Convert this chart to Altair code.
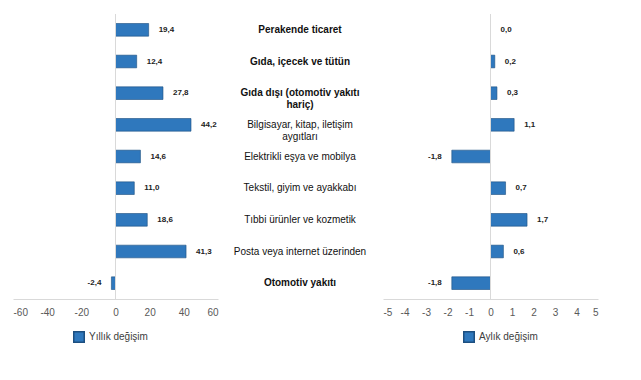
import altair as alt
import pandas as pd

categories = [
    "Perakende ticaret",
    "Gıda, içecek ve tütün",
    "Gıda dışı (otomotiv yakıtı\nhariç)",
    "Bilgisayar, kitap, iletişim\naygıtları",
    "Elektrikli eşya ve mobilya",
    "Tekstil, giyim ve ayakkabı",
    "Tıbbi ürünler ve kozmetik",
    "Posta veya internet üzerinden",
    "Otomotiv yakıtı",
]
bold_flags = [1, 1, 1, 0, 0, 0, 0, 0, 1]
yearly = [19.4, 12.4, 27.8, 44.2, 14.6, 11.0, 18.6, 41.3, -2.4]
monthly = [0.0, 0.2, 0.3, 1.1, -1.8, 0.7, 1.7, 0.6, -1.8]
yearly_ticks = [-60, -40, -20, 0, 20, 40, 60]
monthly_ticks = [-5, -4, -3, -2, -1, 0, 1, 2, 3, 4, 5]

BLUE = "#2f78bd"
FONT = "Liberation Sans"


def fmt(v):
    return f"{v:.1f}".replace(".", ",")


def make_df(vals, series):
    return pd.DataFrame({
        "cat": categories,
        "val": vals,
        "label": [fmt(v) for v in vals],
        "series": series,
    })


H = 285
ysc = alt.Y("cat:N", sort=categories, axis=None,
            scale=alt.Scale(paddingInner=0.6, paddingOuter=0.3))


def panel(vals, series, ticks, width, off, legx):
    df = make_df(vals, series)
    dom = [ticks[0], ticks[-1]]
    ax = alt.Axis(values=ticks, title=None, grid=False, ticks=False,
                  labelOverlap=False, labelExpr="'' + datum.value",
                  domainColor="#d9d9d9", labelColor="#595959",
                  labelFontSize=10, labelFont=FONT, labelPadding=8)
    sc = alt.Scale(domain=dom, nice=False)
    base = alt.Chart(df)
    bars = base.mark_bar(stroke="#1d4f80", strokeWidth=0.6).encode(
        x=alt.X("val:Q", scale=sc, axis=ax),
        y=ysc,
        color=alt.Color("series:N", scale=alt.Scale(range=[BLUE]),
                        legend=alt.Legend(title=None, orient="none",
                                          legendX=legx, legendY=H + 32,
                                          symbolType="square", symbolSize=110,
                                          symbolStrokeColor="#1d4f80",
                                          labelFont=FONT, labelFontSize=10,
                                          labelColor="#404040")),
    )
    zero = alt.Chart(pd.DataFrame({"val": [0]})).mark_rule(color="#d9d9d9").encode(
        x=alt.X("val:Q", scale=sc, axis=ax))
    pos = base.transform_filter("datum.val >= 0").mark_text(
        align="left", dx=off, font=FONT, fontSize=8, fontWeight="bold", color="#222"
    ).encode(x=alt.X("val:Q", scale=sc, axis=ax), y=ysc, text="label:N")
    neg = base.transform_filter("datum.val < 0").mark_text(
        align="right", dx=-off, font=FONT, fontSize=8, fontWeight="bold", color="#222"
    ).encode(x=alt.X("val:Q", scale=sc, axis=ax), y=ysc, text="label:N")
    return alt.layer(bars, zero, pos, neg).properties(width=width, height=H)


left = panel(yearly, "Yıllık değişim", yearly_ticks, 205, 10, 60)
right = panel(monthly, "Aylık değişim", monthly_ticks, 215, 10, 80)

mid_df = pd.DataFrame({"cat": categories, "bold": bold_flags})
mid_b = alt.Chart(mid_df).transform_filter("datum.bold == 1").mark_text(
    font=FONT, fontSize=10, fontWeight="bold", color="#111", lineBreak="\n"
).encode(y=ysc, x=alt.value(82), text="cat:N")
mid_n = alt.Chart(mid_df).transform_filter("datum.bold == 0").mark_text(
    font=FONT, fontSize=10, color="#111", lineBreak="\n"
).encode(y=ysc, x=alt.value(82), text="cat:N")
mid = alt.layer(mid_b, mid_n).properties(width=165, height=H)

chart = alt.hconcat(left, mid, right, spacing=0).resolve_scale(
    color="independent"
).properties(background="white").configure_view(stroke=None)

chart.save("out.html", embed_options={"renderer": "svg", "actions": False})
